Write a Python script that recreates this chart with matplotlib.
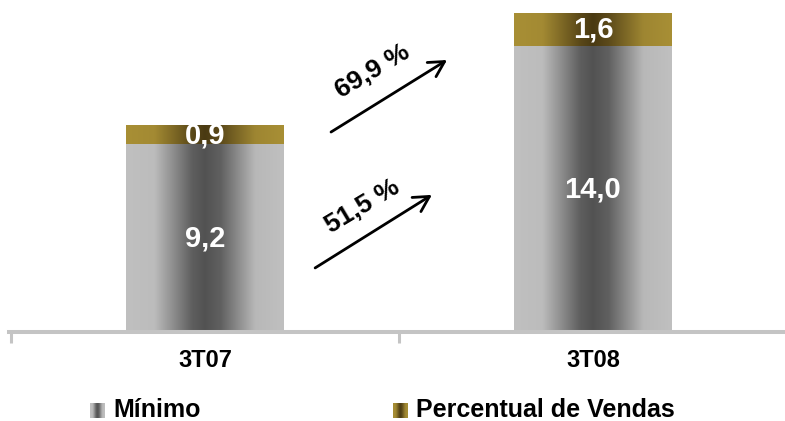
import numpy as np
import matplotlib
matplotlib.use('Agg')
import matplotlib.pyplot as plt
from matplotlib.colors import LinearSegmentedColormap

# dados (R$ milhoes)
periodos = ['3T07', '3T08']
minimo = [9.2, 14.0]
percentual = [0.9, 1.6]
minimo_txt = ['9,2', '14,0']
percentual_txt = ['0,9', '1,6']
crescimento = ['51,5 %', '69,9 %']
series = ['Mínimo', 'Percentual de Vendas']

plt.rcParams['font.family'] = ['Liberation Sans', 'DejaVu Sans']
plt.rcParams['font.weight'] = 'bold'

cinza = LinearSegmentedColormap.from_list('cinza', [
    (0, '#c0c0c0'), (0.18, '#bcbcbc'), (0.42, '#5e5e5e'), (0.5, '#525252'),
    (0.6, '#606060'), (0.82, '#b8b8b8'), (1, '#c0c0c0')])
ouro = LinearSegmentedColormap.from_list('ouro', [
    (0, '#a88f35'), (0.18, '#a38a33'), (0.42, '#5a4818'), (0.5, '#4a3a12'),
    (0.6, '#5c4a1a'), (0.82, '#9e8632'), (1, '#a88f35')])
grad = np.linspace(0, 1, 256).reshape(1, -1)

fig = plt.figure(figsize=(7.85, 4.21), dpi=100)
fig.patch.set_facecolor('white')
ax = fig.add_axes([9/785, 89/421, 776/785, 332/421])

x = np.arange(len(periodos))
b1 = ax.bar(x, minimo, width=0.405, color='none', linewidth=0)
b2 = ax.bar(x, percentual, bottom=minimo, width=0.405, color='none', linewidth=0)

for bars, cmap in ((b1, cinza), (b2, ouro)):
    for p in bars:
        x0, y0 = p.get_xy()
        ax.imshow(grad, cmap=cmap, extent=[x0, x0 + p.get_width(), y0, y0 + p.get_height()],
                  aspect='auto', zorder=1, interpolation='bicubic')

# rotulos de valor
for i in range(len(periodos)):
    ax.text(x[i], minimo[i] / 2, minimo_txt[i], color='white', fontsize=21,
            fontweight='bold', ha='center', va='center', zorder=3)
    ax.text(x[i], minimo[i] + percentual[i] / 2, percentual_txt[i], color='white',
            fontsize=21, fontweight='bold', ha='center', va='center', zorder=3)

# setas de crescimento
setas = [((0.284, 3.14), (0.585, 6.72), (0.405, 6.13)),
         ((0.325, 9.80), (0.624, 13.33), (0.433, 12.75))]
for (ini, fim, pos), txt in zip(setas, crescimento):
    ax.annotate('', xy=fim, xytext=ini,
                arrowprops=dict(arrowstyle='->,head_length=1.1,head_width=0.6',
                                lw=2, color='black', shrinkA=0, shrinkB=0))
    ax.text(pos[0], pos[1], txt, fontsize=19, fontweight='bold', rotation=31,
            rotation_mode='anchor', ha='center', va='center')

ax.set_xlim(-0.505, 1.495)
ax.set_ylim(0, 16.27)
for s in ['top', 'right', 'left']:
    ax.spines[s].set_visible(False)
ax.spines['bottom'].set_color('#c4c4c4')
ax.spines['bottom'].set_linewidth(2.9)
ax.set_yticks([])
ax.set_xticks(x)
ax.set_xticklabels(periodos, fontsize=17, fontweight='bold')
ax.tick_params(axis='x', which='major', length=0, pad=12)
ax.set_xticks([-0.5, 0.5], minor=True)
ax.tick_params(axis='x', which='minor', length=8, width=2.2, color='#c4c4c4', direction='out')

# legenda
leg_pos = [(90, 113), (393, 416)]
for (qx, tx), nome, cmap in zip(leg_pos, series, (cinza, ouro)):
    lax = fig.add_axes([qx / 785, 3 / 421, 15 / 785, 15 / 421])
    lax.imshow(grad, cmap=cmap, aspect='auto', interpolation='bicubic')
    lax.axis('off')
    fig.text(tx / 785, 4 / 421, nome, fontsize=18, fontweight='bold', ha='left', va='baseline')

fig.savefig('out.png', dpi=100)
